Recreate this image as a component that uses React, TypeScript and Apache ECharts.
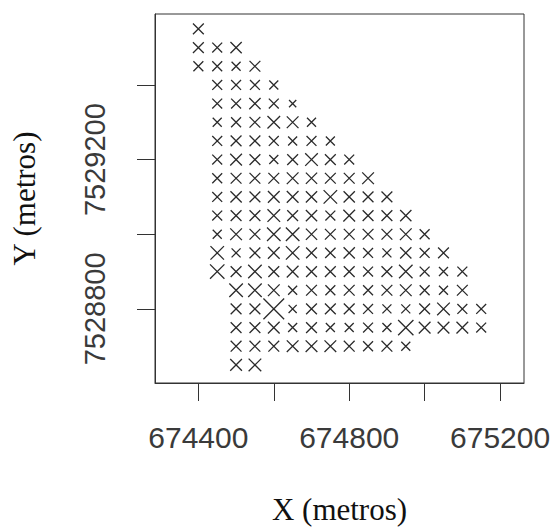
import React, { useEffect, useRef } from "react";
import * as echarts from "echarts";

// Grid rows (Y in metres), first column X of each row, and estimated marker values
const rowY = [
  7529550, 7529500, 7529450, 7529400, 7529350, 7529300, 7529250, 7529200, 7529150, 7529100,
  7529050, 7529000, 7528950, 7528900, 7528850, 7528800, 7528750, 7528700, 7528650,
];
const rowStartX = [
  674400, 674400, 674400, 674450, 674450, 674450, 674450, 674450, 674450, 674450,
  674450, 674450, 674450, 674450, 674500, 674500, 674500, 674500, 674500,
];
const gridStep = 50;
const rowValues: number[][] = [
  [12],
  [12, 11, 12.5],
  [11, 11, 10, 12],
  [11, 11, 11, 10],
  [11, 11, 12.5, 11, 8],
  [10, 11, 12, 14, 13, 10],
  [11, 12, 12, 11, 10, 11, 10],
  [11, 13, 12, 10, 12, 14, 12, 11],
  [11, 12, 12, 12, 13, 12.5, 12, 12, 13],
  [11, 12.5, 12, 13, 13, 12.5, 15, 12.5, 12, 12],
  [11, 12, 12, 14, 12, 12.5, 11, 13, 12, 12, 12.5],
  [10, 13, 12, 15, 15, 12.5, 12, 12, 12, 12, 13, 11],
  [15, 10, 12, 13, 15, 12, 11.5, 12.5, 11, 10, 12.5, 11, 12],
  [16, 12, 15, 12, 13, 12, 12, 12, 11, 12, 15, 11, 10, 11],
  [15, 15, 13, 10, 12, 11, 12, 11, 12, 13, 11, 10, 12],
  [12, 12, 23, 9, 12, 12, 12, 11, 10, 10, 12, 14, 11, 11],
  [12, 12, 13, 10, 12, 10, 10, 11, 10, 17, 13, 13, 13, 11],
  [12, 12, 12, 13, 13, 13, 12, 11, 12, 10],
  [13, 14],
];

const xTicks = [674400, 674600, 674800, 675000, 675200];
const xLabels = [674400, 674800, 675200];
const yTicks = [7528800, 7529000, 7529200, 7529400];
const yLabels = [7528800, 7529200];

const points: number[][] = [];
rowValues.forEach((vals, r) => {
  vals.forEach((v, i) => {
    points.push([rowStartX[r] + i * gridStep, rowY[r], v]);
  });
});

export default function App() {
  const ref = useRef<HTMLDivElement>(null);
  useEffect(() => {
    if (!ref.current) return;
    const chart = echarts.init(ref.current, null, { renderer: "svg" });
    const axisColor = "#333";
    chart.setOption({
      animation: false,
      backgroundColor: "#fff",
      grid: {
        left: 155,
        top: 14,
        width: 369,
        height: 369,
        show: true,
        borderColor: axisColor,
        borderWidth: 1,
        backgroundColor: "transparent",
        containLabel: false,
        outerBoundsMode: "none",
      },
      xAxis: {
        type: "value",
        min: 674285,
        max: 675263.5,
        splitLine: { show: false },
        axisLine: { show: true, lineStyle: { color: axisColor, width: 1 } },
        axisTick: {
          show: true,
          customValues: xTicks,
          length: 18,
          lineStyle: { color: axisColor, width: 1 },
        },
        axisLabel: {
          customValues: xLabels,
          fontSize: 30,
          color: "#3a3a3a",
          fontFamily: "'Liberation Sans', Arial, sans-serif",
          margin: 39,
          formatter: (v: number) => String(v),
        },
        name: "X (metros)",
        nameLocation: "middle",
        nameGap: 111,
        nameTextStyle: {
          fontSize: 31,
          color: "#111",
          fontFamily: "'Liberation Serif', 'Times New Roman', serif",
        },
      },
      yAxis: {
        type: "value",
        min: 7528601.5,
        max: 7529590,
        splitLine: { show: false },
        axisLine: { show: true, lineStyle: { color: axisColor, width: 1 } },
        axisTick: {
          show: true,
          customValues: yTicks,
          length: 18,
          lineStyle: { color: axisColor, width: 1 },
        },
        axisLabel: {
          customValues: yLabels,
          rotate: 90,
          fontSize: 29,
          color: "#3a3a3a",
          fontFamily: "'Liberation Sans', Arial, sans-serif",
          margin: 46,
          formatter: (v: number) => String(v),
        },
        name: "Y (metros)",
        nameLocation: "middle",
        nameGap: 115,
        nameTextStyle: {
          fontSize: 31,
          color: "#111",
          fontFamily: "'Liberation Serif', 'Times New Roman', serif",
        },
      },
      series: [
        {
          type: "scatter",
          data: points,
          silent: true,
          symbol: "path://M0,0L10,10M10,0L0,10",
          symbolSize: (d: number[]) => d[2] * 0.9,
          itemStyle: {
            color: "transparent",
            borderColor: "#2a2a2a",
            borderWidth: 1.3,
            opacity: 1,
          },
          emphasis: { disabled: true },
        },
      ],
    });
    return () => chart.dispose();
  }, []);
  return (
    <div
      ref={ref}
      style={{ position: "absolute", left: 0, top: 0, width: 554, height: 530 }}
    />
  );
}
